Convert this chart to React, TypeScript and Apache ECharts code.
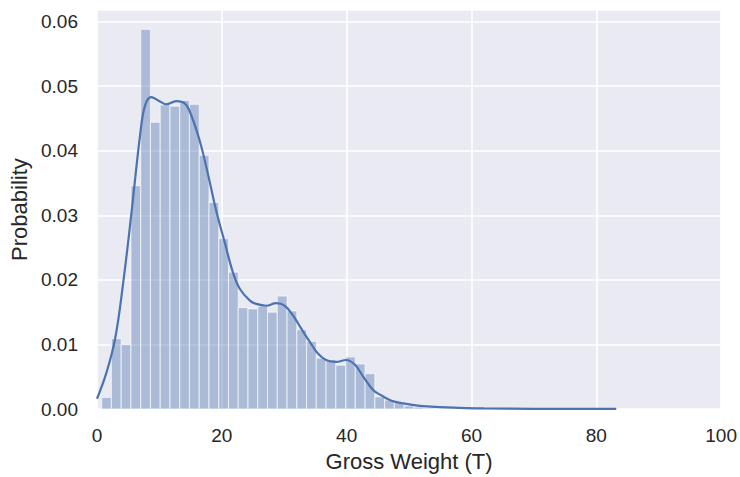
import React, { useEffect, useRef } from "react";
import * as echarts from "echarts";

// Histogram: 50 equal-width bins starting at binStart
const binStart = 0.75;
const binWidth = 1.563;
const binDensity = [
  0.0018, 0.0109, 0.0100, 0.0346, 0.0588, 0.0444, 0.0471, 0.0469, 0.0478, 0.0472,
  0.0393, 0.0320, 0.0264, 0.0212, 0.0157, 0.0155, 0.0159, 0.0150, 0.0175, 0.0152,
  0.0123, 0.0105, 0.0079, 0.0077, 0.0068, 0.0081, 0.0070, 0.0055, 0.0019, 0.0014,
  0.0010, 0.0005, 0.0003, 0.0002, 0.0001, 0.0001, 0.00005, 0.00005, 0, 0.00005,
  0, 0, 0.00005, 0, 0, 0, 0, 0, 0, 0.00005,
];

// KDE curve samples (x in tonnes, density)
const kdeX = [
  0, 1.5, 2.9, 4.2, 5.5, 6.9, 7.7, 8.7, 9.8, 11.1, 12.7, 14.1, 15.1, 16.5, 17.8,
  19.1, 20.5, 21.8, 22.9, 24.5, 25.5, 27.1, 28.7, 30.1, 31.4, 32.7, 34.1, 35.4,
  36.7, 38.3, 39.9, 41.3, 42.6, 44.2, 45.6, 47.2, 49, 51.7, 54.9, 58, 62, 70, 83.2,
];
const kdeY = [
  0.0016, 0.0056, 0.0109, 0.0196, 0.0302, 0.0424, 0.047, 0.0483, 0.0478, 0.0472,
  0.0477, 0.0473, 0.0455, 0.0414, 0.0363, 0.0307, 0.0257, 0.0211, 0.0186, 0.0168,
  0.0163, 0.016, 0.0164, 0.016, 0.0145, 0.0125, 0.0104, 0.0086, 0.0076, 0.0073,
  0.0076, 0.0069, 0.0051, 0.003, 0.0021, 0.0013, 0.0009, 0.0005, 0.0003, 0.0002,
  0.0001, 0.00005, 0.00004,
];

const xTicks = [0, 20, 40, 60, 80, 100];
const yTickStep = 0.01;

const FONT = "'Liberation Sans', Arial, sans-serif";
const TEXT = "#262626";

export default function App() {
  const ref = useRef<HTMLDivElement>(null);
  useEffect(() => {
    if (!ref.current) return;
    const chart = echarts.init(ref.current, undefined, { renderer: "svg" });
    const bins = binDensity.map((d, i) => [
      binStart + i * binWidth,
      binStart + (i + 1) * binWidth,
      d,
    ]);
    chart.setOption({
      animation: false,
      backgroundColor: "#ffffff",
      grid: {
        left: 97,
        right: 18,
        top: 10,
        bottom: 62,
        show: true,
        backgroundColor: "#eaeaf2",
        borderWidth: 0,
      },
      xAxis: {
        type: "value",
        min: xTicks[0],
        max: xTicks[xTicks.length - 1],
        interval: 20,
        name: "Gross Weight (T)",
        nameLocation: "middle",
        nameGap: 40,
        nameTextStyle: { fontFamily: FONT, fontSize: 22, color: TEXT },
        axisLine: { show: false },
        axisTick: { show: false },
        axisLabel: {
          fontFamily: FONT,
          fontSize: 19,
          color: TEXT,
          margin: 17,
        },
        splitLine: { show: true, lineStyle: { color: "#ffffff", width: 1.6 } },
      },
      yAxis: {
        type: "value",
        min: 0,
        max: 0.0618,
        interval: yTickStep,
        name: "Probability",
        nameLocation: "middle",
        nameGap: 64,
        nameTextStyle: { fontFamily: FONT, fontSize: 22, color: TEXT },
        axisLine: { show: false },
        axisTick: { show: false },
        axisLabel: {
          fontFamily: FONT,
          fontSize: 19,
          color: TEXT,
          margin: 19,
          showMaxLabel: false,
          formatter: (v: number) => v.toFixed(2),
        },
        splitLine: { show: true, lineStyle: { color: "#ffffff", width: 1.6 } },
      },
      series: [
        {
          type: "custom",
          data: bins,
          clip: true,
          renderItem: (params: any, api: any) => {
            const x0 = api.value(0);
            const x1 = api.value(1);
            const h = api.value(2);
            const p0 = api.coord([x0, h]);
            const p1 = api.coord([x1, 0]);
            return {
              type: "rect",
              shape: {
                x: p0[0],
                y: p0[1],
                width: p1[0] - p0[0],
                height: p1[1] - p0[1],
              },
              style: {
                fill: "rgba(76,114,176,0.4)",
                stroke: "rgba(255,255,255,0.55)",
                lineWidth: 1.2,
              },
            };
          },
        },
        {
          type: "line",
          data: kdeX.map((x, i) => [x, kdeY[i]]),
          smooth: 0.4,
          showSymbol: false,
          symbol: "none",
          lineStyle: { color: "#4c72b0", width: 2.2 },
          z: 5,
        },
      ],
    });
    return () => chart.dispose();
  }, []);
  return (
    <div
      ref={ref}
      style={{ position: "fixed", left: 0, top: 0, width: 740, height: 477 }}
    />
  );
}
